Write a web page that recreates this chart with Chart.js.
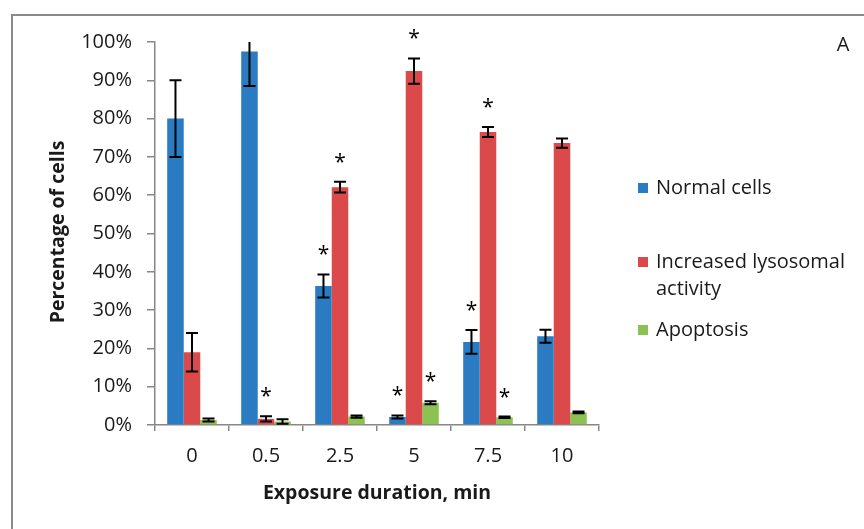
<!DOCTYPE html>
<html>
<head>
<meta charset="utf-8">
<script src="https://cdn.jsdelivr.net/npm/chart.js@4/dist/chart.umd.min.js"></script>
<style>
html,body{margin:0;padding:0;background:#fff;}
canvas{display:block;}
</style>
</head>
<body>
<canvas id="c" width="864" height="529"></canvas>
<script>
// ---- data ----
const categories = ['0', '0.5', '2.5', '5', '7.5', '10'];
const seriesNames = ['Normal cells', 'Increased lysosomal activity', 'Apoptosis'];
const normalCells = [80, 97.5, 36.3, 2.1, 21.7, 23.2];
const normalErr   = [10, 9, 3, 0.4, 3.1, 1.7];
const normalSig   = [0, 0, 1, 1, 1, 0];
const lysosomal    = [19, 1.6, 62.1, 92.4, 76.5, 73.6];
const lysosomalErr = [5, 0.7, 1.4, 3.3, 1.3, 1.2];
const lysosomalSig = [0, 1, 1, 1, 1, 0];
const apoptosis    = [1.3, 0.9, 2.2, 5.8, 2.0, 3.3];
const apoptosisErr = [0.4, 0.6, 0.3, 0.4, 0.2, 0.2];
const apoptosisSig = [0, 0, 0, 1, 1, 0];
const yTicksMax = 100;
const yTickStep = 10;

const colors = ['#2a7bc1', '#db4a4b', '#8cc252'];
const FONT = "'Open Sans', sans-serif";
const TXT = '#1a1a1a';
const AXIS = '#878787';

const errs = [normalErr, lysosomalErr, apoptosisErr];
const sigs = [normalSig, lysosomalSig, apoptosisSig];

const extras = {
  id: 'extras',
  beforeDraw(chart) {
    const ctx = chart.ctx;
    ctx.save();
    ctx.strokeStyle = '#8a8a8a';
    ctx.lineWidth = 2;
    ctx.beginPath();
    ctx.moveTo(12, 529);
    ctx.lineTo(12, 15);
    ctx.lineTo(864, 15);
    ctx.stroke();
    ctx.restore();
  },
  afterDatasetsDraw(chart) {
    const ctx = chart.ctx;
    const ys = chart.scales.y;
    const ca = chart.chartArea;
    ctx.save();
    chart.data.datasets.forEach((ds, di) => {
      const meta = chart.getDatasetMeta(di);
      meta.data.forEach((bar, i) => {
        const v = ds.data[i], e = errs[di][i];
        const yTop = ys.getPixelForValue(v + e);
        const yBot = ys.getPixelForValue(v - e);
        const yt = Math.max(yTop, ca.top);
        ctx.strokeStyle = '#000';
        ctx.lineWidth = 2;
        ctx.beginPath();
        ctx.moveTo(bar.x, yt);
        ctx.lineTo(bar.x, yBot);
        if (yTop >= ca.top) { ctx.moveTo(bar.x - 6, yTop); ctx.lineTo(bar.x + 6, yTop); }
        ctx.moveTo(bar.x - 6, yBot); ctx.lineTo(bar.x + 6, yBot);
        ctx.stroke();
        if (sigs[di][i]) {
          ctx.fillStyle = '#000';
          ctx.font = '21px ' + FONT;
          ctx.textAlign = 'center';
          ctx.textBaseline = 'alphabetic';
          ctx.fillText('*', bar.x, yTop - 13);
        }
      });
    });
    ctx.restore();
  },
  afterDraw(chart) {
    const ctx = chart.ctx;
    ctx.save();
    // axis titles
    ctx.fillStyle = TXT;
    ctx.font = 'bold 19.5px ' + FONT;
    ctx.textAlign = 'center';
    ctx.textBaseline = 'middle';
    ctx.fillText('Exposure duration, min', 377, 493);
    ctx.save();
    ctx.translate(58, 232);
    ctx.rotate(-Math.PI / 2);
    ctx.fillText('Percentage of cells', 0, 0);
    ctx.restore();
    // panel letter
    ctx.font = '20px ' + FONT;
    ctx.fillText('A', 843, 45);
    // legend
    ctx.textAlign = 'left';
    ctx.font = '20px ' + FONT;
    const items = [
      { lines: [seriesNames[0]], y: 188 },
      { lines: ['Increased lysosomal', 'activity'], y: 262 },
      { lines: [seriesNames[2]], y: 330 }
    ];
    items.forEach((it, k) => {
      ctx.fillStyle = colors[k];
      ctx.fillRect(638, it.y - 5, 10, 10);
      ctx.fillStyle = TXT;
      it.lines.forEach((ln, j) => ctx.fillText(ln, 656, it.y + j * 27));
    });
    ctx.restore();
  }
};

new Chart(document.getElementById('c'), {
  type: 'bar',
  data: {
    labels: categories,
    datasets: [
      { label: seriesNames[0], data: normalCells, backgroundColor: colors[0] },
      { label: seriesNames[1], data: lysosomal, backgroundColor: colors[1] },
      { label: seriesNames[2], data: apoptosis, backgroundColor: colors[2] }
    ]
  },
  options: {
    responsive: false,
    maintainAspectRatio: false,
    animation: false,
    layout: { padding: { left: 0, right: 265, top: 42, bottom: 0 } },
    datasets: { bar: { categoryPercentage: 0.67, barPercentage: 1.0 } },
    plugins: { legend: { display: false }, tooltip: { enabled: false } },
    scales: {
      x: {
        afterFit(s) { s.height = 104; },
        grid: { display: true, drawOnChartArea: false, offset: true, tickLength: 6, color: AXIS, lineWidth: 1.5 },
        border: { color: AXIS, width: 1.5 },
        ticks: { color: TXT, font: { family: FONT, size: 20 }, padding: 13 }
      },
      y: {
        min: 0, max: yTicksMax,
        afterFit(s) { s.width = 155; },
        grid: { display: true, drawOnChartArea: false, tickLength: 8, color: AXIS, lineWidth: 1.5 },
        border: { color: AXIS, width: 1.5 },
        ticks: { stepSize: yTickStep, color: TXT, font: { family: FONT, size: 20 }, padding: 15,
                 callback: v => v + '%' }
      }
    }
  },
  plugins: [extras]
});
</script>
</body>
</html>
